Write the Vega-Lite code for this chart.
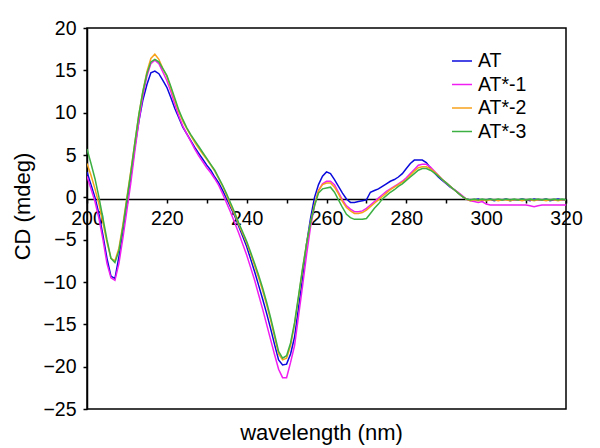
{
"$schema": "https://vega.github.io/schema/vega-lite/v6.json",
"width": 479, "height": 381,
"autosize": {"type": "none"},
"padding": {"left": 87, "top": 28, "right": 34, "bottom": 39},
"background": "white",
"config": {"font": "Liberation Sans", "view": {"stroke": "black", "strokeWidth": 1.5}},
"title": {"text": "wavelength (nm)", "orient": "bottom", "fontSize": 22, "fontWeight": "normal", "color": "black", "offset": 4, "dx": -5},
"data": {"values": [
{"nm":200,"AT":3.0,"AT*-1":2.5,"AT*-2":4.0,"AT*-3":5.7},
{"nm":201,"AT":1.5,"AT*-1":1.0,"AT*-2":2.6,"AT*-3":4.0},
{"nm":202,"AT":0.0,"AT*-1":-0.5,"AT*-2":1.0,"AT*-3":2.2},
{"nm":203,"AT":-2.0,"AT*-1":-2.5,"AT*-2":-0.8,"AT*-3":0.0},
{"nm":204,"AT":-4.5,"AT*-1":-5.0,"AT*-2":-3.0,"AT*-3":-2.5},
{"nm":205,"AT":-7.2,"AT*-1":-7.8,"AT*-2":-5.3,"AT*-3":-5.0},
{"nm":206,"AT":-9.3,"AT*-1":-9.5,"AT*-2":-7.2,"AT*-3":-7.2},
{"nm":207,"AT":-9.6,"AT*-1":-9.8,"AT*-2":-7.5,"AT*-3":-7.7},
{"nm":208,"AT":-7.0,"AT*-1":-7.8,"AT*-2":-6.0,"AT*-3":-6.3},
{"nm":209,"AT":-4.0,"AT*-1":-4.8,"AT*-2":-3.2,"AT*-3":-3.5},
{"nm":210,"AT":-0.5,"AT*-1":-1.5,"AT*-2":0.0,"AT*-3":-0.2},
{"nm":211,"AT":2.5,"AT*-1":1.8,"AT*-2":3.2,"AT*-3":3.0},
{"nm":212,"AT":6.0,"AT*-1":5.5,"AT*-2":6.5,"AT*-3":6.5},
{"nm":213,"AT":9.0,"AT*-1":9.0,"AT*-2":9.8,"AT*-3":9.8},
{"nm":214,"AT":11.5,"AT*-1":12.0,"AT*-2":12.5,"AT*-3":12.5},
{"nm":215,"AT":13.3,"AT*-1":14.3,"AT*-2":14.8,"AT*-3":14.6},
{"nm":216,"AT":14.7,"AT*-1":15.8,"AT*-2":16.4,"AT*-3":16.0},
{"nm":217,"AT":14.9,"AT*-1":16.2,"AT*-2":16.9,"AT*-3":16.3},
{"nm":218,"AT":14.6,"AT*-1":15.8,"AT*-2":16.3,"AT*-3":16.0},
{"nm":219,"AT":13.8,"AT*-1":14.8,"AT*-2":15.2,"AT*-3":15.2},
{"nm":220,"AT":13.0,"AT*-1":13.8,"AT*-2":14.3,"AT*-3":14.4},
{"nm":221,"AT":11.8,"AT*-1":12.5,"AT*-2":12.9,"AT*-3":13.1},
{"nm":222,"AT":10.5,"AT*-1":11.0,"AT*-2":11.5,"AT*-3":11.7},
{"nm":223,"AT":9.4,"AT*-1":9.6,"AT*-2":10.1,"AT*-3":10.3},
{"nm":224,"AT":8.3,"AT*-1":8.4,"AT*-2":9.0,"AT*-3":9.2},
{"nm":225,"AT":7.5,"AT*-1":7.5,"AT*-2":8.1,"AT*-3":8.2},
{"nm":226,"AT":6.7,"AT*-1":6.6,"AT*-2":7.3,"AT*-3":7.4},
{"nm":227,"AT":5.9,"AT*-1":5.7,"AT*-2":6.5,"AT*-3":6.7},
{"nm":228,"AT":5.2,"AT*-1":4.9,"AT*-2":5.8,"AT*-3":6.0},
{"nm":229,"AT":4.5,"AT*-1":4.2,"AT*-2":5.1,"AT*-3":5.3},
{"nm":230,"AT":3.8,"AT*-1":3.5,"AT*-2":4.5,"AT*-3":4.6},
{"nm":231,"AT":3.2,"AT*-1":2.9,"AT*-2":3.8,"AT*-3":3.9},
{"nm":232,"AT":2.4,"AT*-1":2.2,"AT*-2":3.1,"AT*-3":3.2},
{"nm":233,"AT":1.7,"AT*-1":1.4,"AT*-2":2.2,"AT*-3":2.3},
{"nm":234,"AT":0.8,"AT*-1":0.4,"AT*-2":1.3,"AT*-3":1.4},
{"nm":235,"AT":-0.2,"AT*-1":-0.7,"AT*-2":0.2,"AT*-3":0.4},
{"nm":236,"AT":-1.2,"AT*-1":-1.8,"AT*-2":-1.0,"AT*-3":-0.7},
{"nm":237,"AT":-2.2,"AT*-1":-3.0,"AT*-2":-2.0,"AT*-3":-1.8},
{"nm":238,"AT":-3.4,"AT*-1":-4.2,"AT*-2":-3.2,"AT*-3":-3.0},
{"nm":239,"AT":-4.6,"AT*-1":-5.5,"AT*-2":-4.3,"AT*-3":-4.1},
{"nm":240,"AT":-5.8,"AT*-1":-6.8,"AT*-2":-5.4,"AT*-3":-5.2},
{"nm":241,"AT":-7.3,"AT*-1":-8.3,"AT*-2":-6.7,"AT*-3":-6.5},
{"nm":242,"AT":-8.8,"AT*-1":-9.8,"AT*-2":-8.1,"AT*-3":-7.8},
{"nm":243,"AT":-10.4,"AT*-1":-11.5,"AT*-2":-9.5,"AT*-3":-9.2},
{"nm":244,"AT":-12.0,"AT*-1":-13.2,"AT*-2":-11.0,"AT*-3":-10.7},
{"nm":245,"AT":-13.7,"AT*-1":-15.0,"AT*-2":-12.7,"AT*-3":-12.4},
{"nm":246,"AT":-15.5,"AT*-1":-16.8,"AT*-2":-14.5,"AT*-3":-14.2},
{"nm":247,"AT":-17.4,"AT*-1":-18.6,"AT*-2":-16.5,"AT*-3":-16.2},
{"nm":248,"AT":-19.2,"AT*-1":-20.3,"AT*-2":-18.5,"AT*-3":-18.2},
{"nm":249,"AT":-19.8,"AT*-1":-21.3,"AT*-2":-19.2,"AT*-3":-19.0},
{"nm":250,"AT":-19.7,"AT*-1":-21.3,"AT*-2":-19.0,"AT*-3":-18.7},
{"nm":251,"AT":-18.5,"AT*-1":-19.5,"AT*-2":-17.5,"AT*-3":-17.2},
{"nm":252,"AT":-16.5,"AT*-1":-17.5,"AT*-2":-15.0,"AT*-3":-14.8},
{"nm":253,"AT":-13.0,"AT*-1":-14.0,"AT*-2":-11.8,"AT*-3":-11.6},
{"nm":254,"AT":-9.5,"AT*-1":-10.5,"AT*-2":-8.5,"AT*-3":-8.4},
{"nm":255,"AT":-5.5,"AT*-1":-6.8,"AT*-2":-5.5,"AT*-3":-5.5},
{"nm":256,"AT":-2.5,"AT*-1":-3.5,"AT*-2":-3.0,"AT*-3":-3.0},
{"nm":257,"AT":0.0,"AT*-1":-1.0,"AT*-2":-0.8,"AT*-3":-1.0},
{"nm":258,"AT":1.5,"AT*-1":0.8,"AT*-2":0.8,"AT*-3":0.5},
{"nm":259,"AT":2.5,"AT*-1":1.6,"AT*-2":1.5,"AT*-3":1.0},
{"nm":260,"AT":3.0,"AT*-1":1.9,"AT*-2":1.7,"AT*-3":1.1},
{"nm":261,"AT":2.8,"AT*-1":1.9,"AT*-2":1.7,"AT*-3":1.2},
{"nm":262,"AT":2.1,"AT*-1":1.5,"AT*-2":1.2,"AT*-3":0.6},
{"nm":263,"AT":1.3,"AT*-1":0.6,"AT*-2":0.4,"AT*-3":-0.3},
{"nm":264,"AT":0.5,"AT*-1":-0.3,"AT*-2":-0.5,"AT*-3":-1.2},
{"nm":265,"AT":-0.2,"AT*-1":-1.0,"AT*-2":-1.2,"AT*-3":-2.0},
{"nm":266,"AT":-0.6,"AT*-1":-1.4,"AT*-2":-1.6,"AT*-3":-2.4},
{"nm":267,"AT":-0.6,"AT*-1":-1.7,"AT*-2":-1.9,"AT*-3":-2.6},
{"nm":268,"AT":-0.5,"AT*-1":-1.7,"AT*-2":-1.9,"AT*-3":-2.6},
{"nm":269,"AT":-0.4,"AT*-1":-1.6,"AT*-2":-1.8,"AT*-3":-2.6},
{"nm":270,"AT":-0.3,"AT*-1":-1.3,"AT*-2":-1.5,"AT*-3":-2.5},
{"nm":271,"AT":0.6,"AT*-1":-0.9,"AT*-2":-1.1,"AT*-3":-1.9},
{"nm":272,"AT":0.8,"AT*-1":-0.5,"AT*-2":-0.7,"AT*-3":-1.3},
{"nm":273,"AT":1.0,"AT*-1":-0.1,"AT*-2":-0.3,"AT*-3":-0.8},
{"nm":274,"AT":1.3,"AT*-1":0.3,"AT*-2":0.1,"AT*-3":-0.2},
{"nm":275,"AT":1.6,"AT*-1":0.7,"AT*-2":0.5,"AT*-3":0.2},
{"nm":276,"AT":1.9,"AT*-1":1.0,"AT*-2":0.9,"AT*-3":0.6},
{"nm":277,"AT":2.1,"AT*-1":1.3,"AT*-2":1.2,"AT*-3":0.9},
{"nm":278,"AT":2.4,"AT*-1":1.6,"AT*-2":1.5,"AT*-3":1.3},
{"nm":279,"AT":2.8,"AT*-1":1.9,"AT*-2":1.8,"AT*-3":1.6},
{"nm":280,"AT":3.4,"AT*-1":2.3,"AT*-2":2.1,"AT*-3":2.0},
{"nm":281,"AT":4.0,"AT*-1":2.8,"AT*-2":2.6,"AT*-3":2.4},
{"nm":282,"AT":4.4,"AT*-1":3.3,"AT*-2":3.1,"AT*-3":2.8},
{"nm":283,"AT":4.4,"AT*-1":3.8,"AT*-2":3.5,"AT*-3":3.2},
{"nm":284,"AT":4.4,"AT*-1":3.9,"AT*-2":3.6,"AT*-3":3.4},
{"nm":285,"AT":4.1,"AT*-1":3.9,"AT*-2":3.6,"AT*-3":3.4},
{"nm":286,"AT":3.5,"AT*-1":3.6,"AT*-2":3.4,"AT*-3":3.2},
{"nm":287,"AT":2.9,"AT*-1":3.1,"AT*-2":3.0,"AT*-3":2.9},
{"nm":288,"AT":2.4,"AT*-1":2.6,"AT*-2":2.6,"AT*-3":2.5},
{"nm":289,"AT":2.0,"AT*-1":2.1,"AT*-2":2.1,"AT*-3":2.1},
{"nm":290,"AT":1.6,"AT*-1":1.7,"AT*-2":1.7,"AT*-3":1.7},
{"nm":291,"AT":1.2,"AT*-1":1.3,"AT*-2":1.3,"AT*-3":1.3},
{"nm":292,"AT":0.9,"AT*-1":0.9,"AT*-2":0.9,"AT*-3":0.9},
{"nm":293,"AT":0.5,"AT*-1":0.6,"AT*-2":0.5,"AT*-3":0.5},
{"nm":294,"AT":0.1,"AT*-1":0.2,"AT*-2":0.1,"AT*-3":0.1},
{"nm":295,"AT":-0.2,"AT*-1":-0.2,"AT*-2":-0.2,"AT*-3":-0.2},
{"nm":296,"AT":-0.3,"AT*-1":-0.4,"AT*-2":-0.4,"AT*-3":-0.3},
{"nm":297,"AT":-0.3,"AT*-1":-0.5,"AT*-2":-0.3,"AT*-3":-0.2},
{"nm":298,"AT":-0.2,"AT*-1":-0.6,"AT*-2":-0.4,"AT*-3":-0.3},
{"nm":299,"AT":-0.4,"AT*-1":-0.5,"AT*-2":-0.3,"AT*-3":-0.2},
{"nm":300,"AT":-0.3,"AT*-1":-0.8,"AT*-2":-0.4,"AT*-3":-0.3},
{"nm":301,"AT":-0.2,"AT*-1":-0.9,"AT*-2":-0.3,"AT*-3":-0.2},
{"nm":302,"AT":-0.4,"AT*-1":-0.9,"AT*-2":-0.3,"AT*-3":-0.3},
{"nm":303,"AT":-0.3,"AT*-1":-0.9,"AT*-2":-0.4,"AT*-3":-0.2},
{"nm":304,"AT":-0.3,"AT*-1":-0.9,"AT*-2":-0.3,"AT*-3":-0.3},
{"nm":305,"AT":-0.2,"AT*-1":-0.9,"AT*-2":-0.3,"AT*-3":-0.2},
{"nm":306,"AT":-0.4,"AT*-1":-0.9,"AT*-2":-0.4,"AT*-3":-0.3},
{"nm":307,"AT":-0.3,"AT*-1":-0.9,"AT*-2":-0.3,"AT*-3":-0.2},
{"nm":308,"AT":-0.3,"AT*-1":-0.9,"AT*-2":-0.3,"AT*-3":-0.3},
{"nm":309,"AT":-0.2,"AT*-1":-0.9,"AT*-2":-0.4,"AT*-3":-0.2},
{"nm":310,"AT":-0.3,"AT*-1":-0.9,"AT*-2":-0.3,"AT*-3":-0.3},
{"nm":311,"AT":-0.4,"AT*-1":-1.0,"AT*-2":-0.3,"AT*-3":-0.2},
{"nm":312,"AT":-0.2,"AT*-1":-1.1,"AT*-2":-0.4,"AT*-3":-0.3},
{"nm":313,"AT":-0.3,"AT*-1":-1.0,"AT*-2":-0.3,"AT*-3":-0.2},
{"nm":314,"AT":-0.3,"AT*-1":-0.9,"AT*-2":-0.3,"AT*-3":-0.3},
{"nm":315,"AT":-0.2,"AT*-1":-0.9,"AT*-2":-0.4,"AT*-3":-0.2},
{"nm":316,"AT":-0.4,"AT*-1":-0.9,"AT*-2":-0.3,"AT*-3":-0.3},
{"nm":317,"AT":-0.3,"AT*-1":-0.9,"AT*-2":-0.3,"AT*-3":-0.2},
{"nm":318,"AT":-0.2,"AT*-1":-0.9,"AT*-2":-0.4,"AT*-3":-0.3},
{"nm":319,"AT":-0.3,"AT*-1":-0.9,"AT*-2":-0.3,"AT*-3":-0.2},
{"nm":320,"AT":-0.3,"AT*-1":-0.9,"AT*-2":-0.3,"AT*-3":-0.3}
]},
"transform": [{"fold": ["AT", "AT*-1", "AT*-2", "AT*-3"], "as": ["series", "cd"]}],
"mark": {"type": "line", "strokeWidth": 1.5, "clip": true},
"encoding": {
  "x": {"field": "nm", "type": "quantitative",
    "scale": {"domain": [200, 320], "nice": false, "zero": false},
    "axis": {"title": null, "offset": -210, "values": [200,210,220,230,240,250,260,270,280,290,300,310,320],
      "labelExpr": "datum.value % 20 === 0 ? datum.label : ''",
      "labelFontSize": 19.5, "labelColor": "black", "tickColor": "black", "domainColor": "black",
      "domainWidth": 1.5, "tickWidth": 1.5, "tickSize": 4, "grid": false, "labelPadding": 6, "labelFlush": false, "labelOverlap": false}},
  "y": {"field": "cd", "type": "quantitative",
    "scale": {"domain": [-25, 20], "nice": false},
    "axis": {"title": "CD (mdeg)", "titleFontSize": 22, "titleFontWeight": "normal", "titleColor": "black", "titleY": 178,
      "values": [-25,-20,-15,-10,-5,0,5,10,15,20],
      "labelFontSize": 19.5, "labelColor": "black", "tickColor": "black", "domainColor": "black",
      "domainWidth": 1.5, "tickWidth": 1.5, "tickSize": 4, "grid": false, "labelPadding": 7, "titlePadding": 8}},
  "color": {"field": "series", "type": "nominal",
    "scale": {"domain": ["AT", "AT*-1", "AT*-2", "AT*-3"], "range": ["#0a0adc", "#f01ef0", "#f7a21b", "#3cb043"]},
    "legend": {"title": null, "orient": "none", "legendX": 364, "legendY": 22, "labelFontSize": 19.5, "labelColor": "black",
      "symbolType": "stroke", "symbolSize": 400, "symbolStrokeWidth": 1.5, "rowPadding": 2.5, "labelOffset": 5}}
}
}
